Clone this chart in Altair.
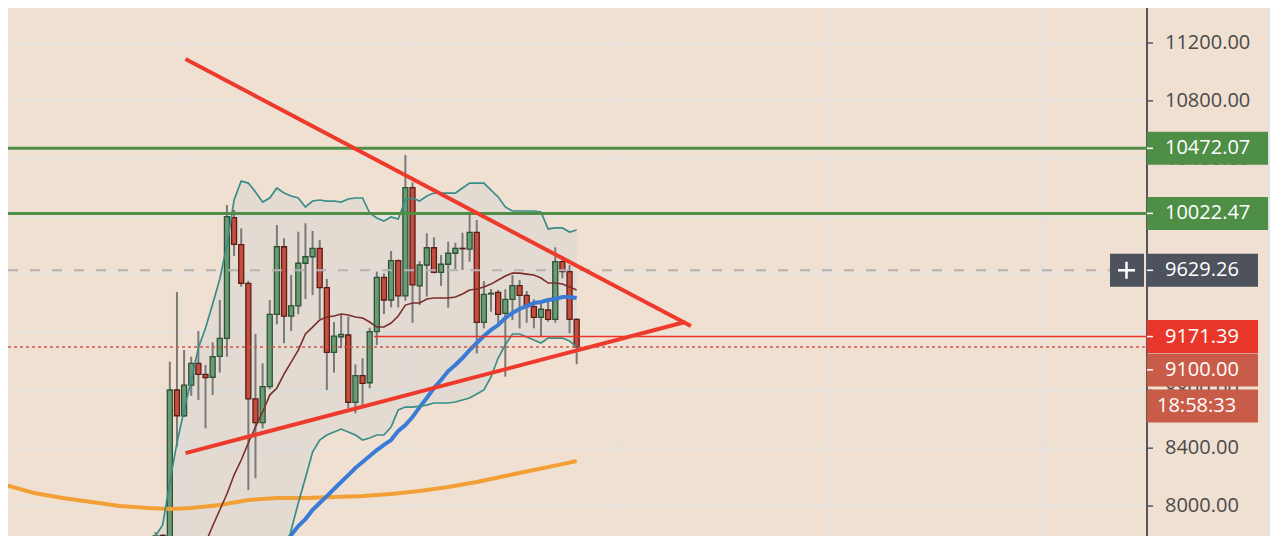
import altair as alt
import pandas as pd

# ---------------- data ----------------
# daily candles, x = candle index
candle_idx = list(range(4, 64))
opens = [7700, 7798, 7765, 8802, 8624, 8836, 8986, 8910, 8890, 9035, 9159, 9993, 9806, 9539, 8740,
         8576, 8825, 9325, 9792, 9313, 9384, 9678, 9723, 9781, 9509, 9062, 9170, 9182, 8717, 8901,
         8852, 9205, 9581, 9424, 9696, 9452, 10200, 9521, 9666, 9785, 9615, 9671, 9747, 9781, 9776,
         9892, 9270, 9466, 9477, 9332, 9429, 9523, 9456, 9378, 9304, 9355, 9290, 9689, 9620, 9290]
highs = [7821, 7805, 8998, 9479, 9078, 9032, 9210, 8975, 9132, 9424, 10080, 10046, 9919, 9557, 9189,
         8986, 9424, 9942, 9850, 9597, 9896, 9954, 9901, 9839, 9569, 9272, 9325, 9309, 8979, 9021,
         9232, 9620, 9608, 9763, 9705, 10426, 10237, 9693, 9885, 9857, 9735, 9827, 9820, 9889, 10023,
         9977, 9555, 9500, 9493, 9498, 9597, 9562, 9486, 9429, 9401, 9424, 9788, 9728, 9666, 9297]
lows = [7690, 7740, 7700, 8410, 8615, 8762, 8733, 8537, 8767, 8922, 9032, 9728, 9516, 8111, 8192,
        8537, 8807, 9256, 9125, 9210, 9325, 9431, 9458, 9293, 8802, 8922, 9090, 8675, 8641, 8691,
        8814, 9113, 9327, 9373, 9373, 9419, 9267, 9389, 9447, 9608, 9521, 9371, 9636, 9631, 9689,
        9055, 9228, 9343, 9244, 8894, 9286, 9228, 9267, 9228, 9170, 9274, 9267, 9574, 9194, 8980]
closes = [7793, 7763, 8802, 8624, 8836, 8986, 8910, 8887, 9032, 9159, 10000, 9809, 9539, 8740, 8576,
          8825, 9325, 9792, 9313, 9384, 9678, 9723, 9781, 9509, 9062, 9175, 9187, 8717, 8901, 8848,
          9205, 9581, 9424, 9696, 9452, 10200, 9528, 9666, 9785, 9615, 9671, 9747, 9781, 9778, 9892,
          9270, 9463, 9470, 9325, 9429, 9523, 9456, 9378, 9304, 9360, 9290, 9689, 9620, 9290, 9100]

# Bollinger bands
band_idx = list(range(3, 64))
band_upper = [7710, 7793, 7869, 8166, 8436, 8664, 8871, 9092, 9230, 9396, 9569, 9804, 10115, 10246, 10232,
              10170, 10101, 10129, 10198, 10163, 10143, 10129, 10067, 10108, 10115, 10108, 10108, 10101,
              10122, 10129, 10129, 10025, 9991, 9970, 9998, 9984, 10115, 10129, 10108, 10143, 10163,
              10163, 10163, 10163, 10198, 10232, 10232, 10232, 10184, 10136, 10067, 10039, 10039, 10039,
              10039, 10032, 9915, 9922, 9922, 9894, 9908]
band_lower = [6100, 6080, 6050, 6020, 6040, 6090, 6130, 6162, 6260, 6328, 6377, 6362, 6313, 6390, 6640,
              6922, 7199, 7405, 7434, 7627, 7834, 8021, 8194, 8373, 8456, 8491, 8512, 8532, 8512, 8491,
              8456, 8470, 8491, 8491, 8546, 8664, 8684, 8684, 8691, 8698, 8712, 8712, 8712, 8719, 8733,
              8747, 8774, 8802, 8892, 9023, 9113, 9189, 9189, 9168, 9147, 9127, 9161, 9161, 9161, 9141, 9099]
basis_idx = list(range(10, 64))
basis = [7627, 7745, 7862, 7973, 8083, 8214, 8318, 8436, 8546, 8650, 8767, 8816, 8912, 8995, 9078, 9189,
         9237, 9286, 9306, 9313, 9327, 9320, 9306, 9300, 9272, 9237, 9237, 9265, 9313, 9389, 9403, 9403,
         9431, 9438, 9438, 9438, 9445, 9465, 9493, 9500, 9514, 9534, 9562, 9590, 9610, 9610, 9603, 9597,
         9576, 9541, 9541, 9534, 9514, 9493]

# moving averages
blue_idx = list(range(20, 64))
blue_ma = [7600, 7665, 7731, 7800, 7862, 7910, 7973, 8021, 8069, 8118, 8166, 8214, 8263, 8304, 8346, 8387,
           8422, 8456, 8519, 8560, 8615, 8684, 8747, 8816, 8871, 8933, 8975, 9023, 9078, 9127, 9175, 9217,
           9251, 9299, 9334, 9362, 9382, 9403, 9410, 9424, 9431, 9445, 9445, 9438]
orange_idx = [-17, -13, -9, -5, -1, 3, 6, 9, 13, 17, 21, 25, 29, 33, 37, 41, 45, 49, 53, 57, 61, 63]
orange_ma = [8145, 8090, 8055, 8028, 8000, 7986, 7979, 7986, 8007, 8042, 8055, 8055, 8062, 8069, 8083,
             8104, 8131, 8166, 8208, 8249, 8290, 8311]

# drawings
trend_key = ["upper", "upper", "lower", "lower"]
trend_idx = [8.19, 79.0, 8.19, 78.2]
trend_val = [11089, 9244, 8366, 9272]
green_levels = [10472.07, 10022.47]
crosshair_price = 9629.26
ray_price = 9171.39
ray_start = 34.6
last_price = 9100.00
countdown = "18:58:33"

# axis / grid
y_ticks = [8000, 8400, 8800, 9200, 9600, 10000, 10400, 10800, 11200]
# tick labels that are not fully covered by the price boxes
y_tick_labels = [8000, 8400, 8800, 10400, 10800, 11200]
vgrid_idx = [8.19, 39.17, 69.03, 98.6, 128.06]

# ---------------- styles ----------------
BG = "#f0e0d2"
GRID = "#e5e2df"
AXIS_C = "#55575c"
W, H = 1139, 528
X_DOM = [-15.97, 142.2]
Y_DOM = [7793, 11442]
FONT = "Open Sans"

xs = alt.Scale(domain=X_DOM, nice=False, zero=False)
ys = alt.Scale(domain=Y_DOM, nice=False, zero=False)


def X(f):
    return alt.X(f, type="quantitative", scale=xs, axis=None)


def Y(f):
    return alt.Y(f, type="quantitative", scale=ys, axis=None)


candles = pd.DataFrame({"i": candle_idx, "o": opens, "h": highs, "l": lows, "c": closes})
bands = pd.DataFrame({"i": band_idx, "up": band_upper, "lo": band_lower})
basis_df = pd.DataFrame({"i": basis_idx, "v": basis})
blue_df = pd.DataFrame({"i": blue_idx, "v": blue_ma})
orange_df = pd.DataFrame({"i": orange_idx, "v": orange_ma})
trend_df = pd.DataFrame({"k": trend_key, "i": trend_idx, "v": trend_val})
ticks_df = pd.DataFrame({"p": y_ticks})
tick_lab_df = pd.DataFrame({"p": y_tick_labels})
vgrid_df = pd.DataFrame({"g": vgrid_idx})

# price scale drawn by hand: grid, axis line, ticks, labels
hgrid = alt.Chart(ticks_df).mark_rule(color=GRID, strokeWidth=2).encode(
    x=alt.value(0), x2=alt.value(W), y=Y("p"))
vgrid = alt.Chart(vgrid_df).mark_rule(color=GRID, strokeWidth=2).encode(x=X("g"))
axis_line = alt.Chart(ticks_df).mark_rule(color=AXIS_C, strokeWidth=2).encode(
    x=alt.value(W), y=alt.value(0), y2=alt.value(H))
axis_ticks = alt.Chart(ticks_df).mark_rule(color=AXIS_C, strokeWidth=1.5).encode(
    x=alt.value(W), x2=alt.value(W + 6), y=Y("p"))
axis_labels = alt.Chart(tick_lab_df).transform_calculate(t="format(datum.p, '.2f')").mark_text(
    align="left", baseline="middle", font=FONT, fontSize=20, color="#4a4a4a").encode(
    x=alt.value(1157), y=Y("p"), text="t:N")
side_strip = alt.Chart(ticks_df).mark_rect(color="#dfe1e8").encode(
    x=alt.value(1260), x2=alt.value(1262), y=alt.value(0), y2=alt.value(H))

fill = alt.Chart(bands).mark_area(color="#b8c2cc", opacity=0.22, clip=True).encode(
    x=X("i"), y=Y("lo"), y2="up")

base = alt.Chart(candles).transform_calculate(dir="datum.c >= datum.o ? 'up' : 'down'")
wicks = base.mark_rule(color="#7a7a7a", strokeWidth=2, clip=True).encode(
    x=X("i"), y=Y("l"), y2="h")
bodies = base.mark_bar(size=5, strokeWidth=1.3, clip=True).encode(
    x=X("i"), y=Y("o"), y2="c",
    fill=alt.Fill("dir:N", scale=alt.Scale(domain=["up", "down"], range=["#6b9b74", "#c44f3e"]), legend=None),
    stroke=alt.Stroke("dir:N", scale=alt.Scale(domain=["up", "down"], range=["#2d5336", "#5a1c16"]), legend=None))

orange = alt.Chart(orange_df).mark_line(color="#f2a035", strokeWidth=4, clip=True).encode(x=X("i"), y=Y("v"))
blue = alt.Chart(blue_df).mark_line(color="#3a7bd5", strokeWidth=4, clip=True).encode(x=X("i"), y=Y("v"))
upper = alt.Chart(bands).mark_line(color="#3a8d88", strokeWidth=1.7, clip=True).encode(x=X("i"), y=Y("up"))
lower = alt.Chart(bands).mark_line(color="#3a8d88", strokeWidth=1.7, clip=True).encode(x=X("i"), y=Y("lo"))
mid = alt.Chart(basis_df).mark_line(color="#7b2e2c", strokeWidth=1.6, clip=True).encode(x=X("i"), y=Y("v"))

green_df = pd.DataFrame({"p": green_levels})
greens = alt.Chart(green_df).mark_rule(color="#4f8e47", strokeWidth=3).encode(
    x=alt.value(0), x2=alt.value(W), y=Y("p"))
cross = alt.Chart(pd.DataFrame({"p": [crosshair_price]})).mark_rule(
    color="#b3b3b3", strokeWidth=2, strokeDash=[10, 12]).encode(x=alt.value(0), x2=alt.value(1102), y=Y("p"))
ray = alt.Chart(pd.DataFrame({"p": [ray_price], "s": [ray_start]})).mark_rule(
    color="#e8372a", strokeWidth=1.6).encode(x=X("s"), x2=alt.value(W), y=Y("p"))
lastline = alt.Chart(pd.DataFrame({"p": [last_price]})).mark_rule(
    color="#d0574a", strokeWidth=1.5, strokeDash=[3, 3]).encode(x=alt.value(0), x2=alt.value(W), y=Y("p"))
trend = alt.Chart(trend_df).mark_line(color="#ee3a2c", strokeWidth=4, clip=True).encode(
    x=X("i"), y=Y("v"), detail="k:N")

# ---------------- price labels on the axis ----------------
green_lab = pd.DataFrame({"p": green_levels, "t": [f"{v:.2f}" for v in green_levels]})
other_lab = pd.DataFrame({"p": [crosshair_price, ray_price],
                          "t": [f"{crosshair_price:.2f}", f"{ray_price:.2f}"],
                          "col": ["#4e525d", "#e8372a"]})
last_lab = pd.DataFrame({"p": [last_price], "t": [f"{last_price:.2f}"]})
cd_lab = pd.DataFrame({"p": [last_price], "t": [countdown]})
HB = 16.5


def box(df, right, color=None, dy=0):
    m = alt.Chart(df).mark_rect(yOffset=dy - HB, y2Offset=dy + HB, **({"color": color} if color else {}))
    enc = dict(x=alt.value(W), x2=alt.value(right), y=Y("p"), y2="p")
    if color is None:
        enc["color"] = alt.Color("col:N", scale=None)
    return m.encode(**enc)


def tick(df, dy=0):
    return alt.Chart(df).mark_rule(color="white", strokeWidth=1.5, yOffset=dy, y2Offset=dy).encode(
        x=alt.value(W), x2=alt.value(W + 6), y=Y("p"))


def label(df, x, dy=0):
    return alt.Chart(df).mark_text(align="left", baseline="middle", font=FONT, fontSize=20,
                                   color="white", dy=dy).encode(x=alt.value(x), y=Y("p"), text="t:N")


plus_df = pd.DataFrame({"p": [crosshair_price]})
plus_box = alt.Chart(plus_df).mark_rect(color="#4e525d", yOffset=-HB, y2Offset=HB).encode(
    x=alt.value(1102), x2=alt.value(1136), y=Y("p"), y2="p")
plus_h = alt.Chart(plus_df).mark_rule(color="white", strokeWidth=2.5).encode(
    x=alt.value(1110), x2=alt.value(1127), y=Y("p"))
plus_v = alt.Chart(plus_df).mark_rule(color="white", strokeWidth=2.5, yOffset=-8.5, y2Offset=8.5).encode(
    x=alt.value(1118.5), y=Y("p"), y2="p")

layers = [hgrid, vgrid, side_strip, axis_line, axis_ticks, axis_labels,
          fill, wicks, bodies, orange, blue, upper, lower, mid,
          greens, cross, ray, lastline, trend,
          box(green_lab, 1260, "#4f8e47"), tick(green_lab), label(green_lab, 1157),
          box(other_lab, 1250), tick(other_lab), label(other_lab, 1157),
          box(last_lab, 1250, "#c95c48", 23), tick(last_lab, 23), label(last_lab, 1157, 23),
          box(cd_lab, 1250, "#c95c48", 59), label(cd_lab, 1149, 59),
          plus_box, plus_h, plus_v]

chart = alt.layer(*layers).properties(
    width=W, height=H,
    padding={"left": 0, "top": 0, "right": 123, "bottom": 0},
    autosize=alt.AutoSizeParams(type="none"),
).configure(background=BG).configure_view(stroke=None)

chart.save("out.html", embed_options={"renderer": "svg", "actions": False})
